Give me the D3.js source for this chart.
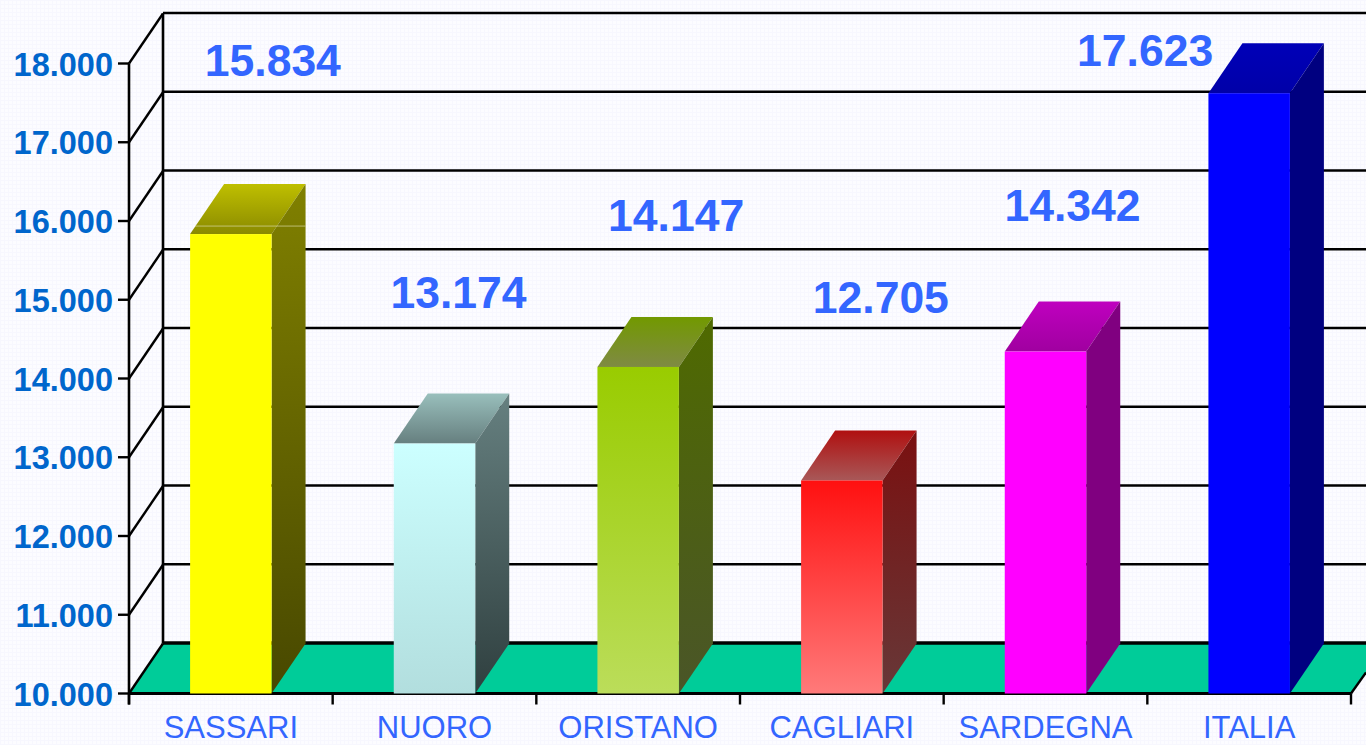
<!DOCTYPE html>
<html><head><meta charset="utf-8">
<script src="https://cdn.jsdelivr.net/npm/d3@7"></script>
<style>html,body{margin:0;padding:0;background:#fbfbff;overflow:hidden}svg{display:block}</style>
</head><body><svg id="c" width="1366" height="745"></svg>
<script>
const categories = ["SASSARI","NUORO","ORISTANO","CAGLIARI","SARDEGNA","ITALIA"];
const values = [15834,13174,14147,12705,14342,17623];
const valueLabels = ["15.834","13.174","14.147","12.705","14.342","17.623"];
const axisTicks = [10000,11000,12000,13000,14000,15000,16000,17000,18000];
const labelLevels = [17800,14860,15830,14790,15960,17930];
const labelShifts = [42,24,38,39,27,-104];
const frontColors = [["#ffff00","#ffff00"],["#ccffff","#b2dede"],["#99cc00","#bbdd5a"],["#ff1010","#ff7a7a"],["#ff00ff","#ff00ff"],["#0000ff","#0000ff"]];
const topColors = [["#bfbf00","#8a8a00"],["#99bfbc","#667f7f"],["#729900","#7f8a44"],["#b01010","#a85858"],["#bf00bf","#a000a0"],["#0000b8","#0000a8"]];
const sideColors = [["#808000","#484800"],["#668080","#2f3f3f"],["#4f6a00","#4a5528"],["#7a1010","#673838"],["#800080","#800080"],["#000080","#000080"]];

const svg = d3.select("#c");
const W = 1366, H = 745;
const depthX = 34, depthY = -50;
const x = d3.scaleBand().domain(categories).range([129,1351]).paddingInner(0.6).paddingOuter(0.3);
const xTick = d3.scaleBand().domain(categories).range([129,1351]);
const y = d3.scaleLinear().domain([10000,18000]).range([693.5,63.5]);

const defs = svg.append("defs");
const pat = defs.append("pattern").attr("id","bg").attr("width",4).attr("height",4).attr("patternUnits","userSpaceOnUse");
pat.append("rect").attr("width",4).attr("height",4).attr("fill","#fcfcff");
pat.append("rect").attr("width",4).attr("height",1).attr("fill","#f7f7fe");
pat.append("rect").attr("width",1).attr("height",4).attr("fill","#f7f7fe");
svg.append("rect").attr("width",W).attr("height",H).attr("fill","url(#bg)");

function grad(id,c,x1,y1,x2,y2){
  const g = defs.append("linearGradient").attr("id",id).attr("gradientUnits","userSpaceOnUse")
    .attr("x1",x1).attr("y1",y1).attr("x2",x2).attr("y2",y2);
  g.append("stop").attr("offset",0).attr("stop-color",c[0]);
  g.append("stop").attr("offset",1).attr("stop-color",c[1]);
}

const x0 = y.range()[0], xL = 129;
const backX = xL + depthX;
svg.append("polygon").attr("fill","#00cc99")
  .attr("points",[[xL,x0],[backX,x0+depthY],[W,x0+depthY],[W,x0-20],[1351,x0]].join(" "));
const grid = svg.append("g").attr("stroke","#000").attr("fill","none");
axisTicks.forEach(t=>{
  const yy = y(t);
  grid.append("line").attr("x1",xL).attr("y1",yy).attr("x2",backX).attr("y2",yy+depthY).attr("stroke-width",2.4);
  grid.append("line").attr("x1",backX).attr("y1",yy+depthY-0.5).attr("x2",W).attr("y2",yy+depthY-0.5)
    .attr("stroke-width",t===10000?3.6:2.4);
  grid.append("line").attr("x1",xL-11).attr("y1",yy).attr("x2",xL).attr("y2",yy).attr("stroke-width",2.4);
});
grid.append("line").attr("x1",xL).attr("y1",y(18000)).attr("x2",xL).attr("y2",x0+11).attr("stroke-width",2.6);
grid.append("line").attr("x1",backX).attr("y1",y(18000)+depthY).attr("x2",backX).attr("y2",x0+depthY).attr("stroke-width",2.6);
grid.append("line").attr("x1",1351).attr("y1",x0).attr("x2",W).attr("y2",x0-21).attr("stroke-width",2.4);

const edges = categories.map(c=>xTick(c)).concat([1351]);
edges.forEach(e=>grid.append("line").attr("x1",e).attr("y1",x0).attr("x2",e).attr("y2",x0+11).attr("stroke-width",2.4));

categories.forEach((c,i)=>{
  const t = y(values[i]), b = y(10000);
  grad("f"+i,frontColors[i],0,t,0,b);
  grad("t"+i,topColors[i],0,t+depthY,0,t);
  grad("s"+i,sideColors[i],0,t+depthY,0,b);
});
svg.append("line").attr("x1",xL).attr("y1",x0).attr("x2",1351).attr("y2",x0).attr("stroke","#000").attr("stroke-width",3.2);
const bars = svg.selectAll("g.bar").data(categories).join("g").attr("class","bar");
bars.append("polygon").attr("fill",(c,i)=>`url(#t${i})`)
  .attr("points",(c,i)=>{const l=x(c),r=l+x.bandwidth(),t=y(values[i]);return [[l,t],[l+depthX,t+depthY],[r+depthX,t+depthY],[r,t]].join(" ");});
bars.append("polygon").attr("fill",(c,i)=>`url(#s${i})`)
  .attr("points",(c,i)=>{const r=x(c)+x.bandwidth(),t=y(values[i]),b=y(10000);return [[r,t],[r+depthX,t+depthY],[r+depthX,b+depthY],[r,b]].join(" ");});
bars.append("rect").attr("fill",(c,i)=>`url(#f${i})`)
  .attr("x",c=>x(c)).attr("width",x.bandwidth())
  .attr("y",(c,i)=>y(values[i])).attr("height",(c,i)=>y(10000)-y(values[i]));
// faint seam across the first bar's top and side faces
svg.append("line").attr("x1",x(categories[0])+5).attr("x2",x(categories[0])+x.bandwidth()+depthX)
  .attr("y1",y(values[0])-8).attr("y2",y(values[0])-8).attr("stroke","#d8d8a0").attr("stroke-width",1).attr("opacity",0.7);

const font = "'Liberation Sans',Arial,sans-serif";
svg.append("g").selectAll("text").data(axisTicks).join("text")
  .attr("x",113).attr("y",t=>y(t)+12).attr("text-anchor","end")
  .attr("font-family",font).attr("font-weight","bold").attr("font-size",32.5).attr("fill","#0066cc")
  .text(t=>d3.format(",")(t).replace(",","."));
svg.append("g").selectAll("text").data(categories).join("text")
  .attr("x",c=>xTick(c)+xTick.bandwidth()/2).attr("y",738).attr("text-anchor","middle")
  .attr("font-family",font).attr("font-size",31).attr("fill","#3366ff").text(c=>c);
svg.append("g").selectAll("text").data(valueLabels).join("text")
  .attr("x",(d,i)=>x(categories[i])+x.bandwidth()/2+labelShifts[i])
  .attr("y",(d,i)=>y(labelLevels[i])-3)
  .attr("text-anchor","middle").attr("font-family",font).attr("font-weight","bold").attr("font-size",44.5).attr("fill","#3366ff")
  .text(d=>d);
</script></body></html>
